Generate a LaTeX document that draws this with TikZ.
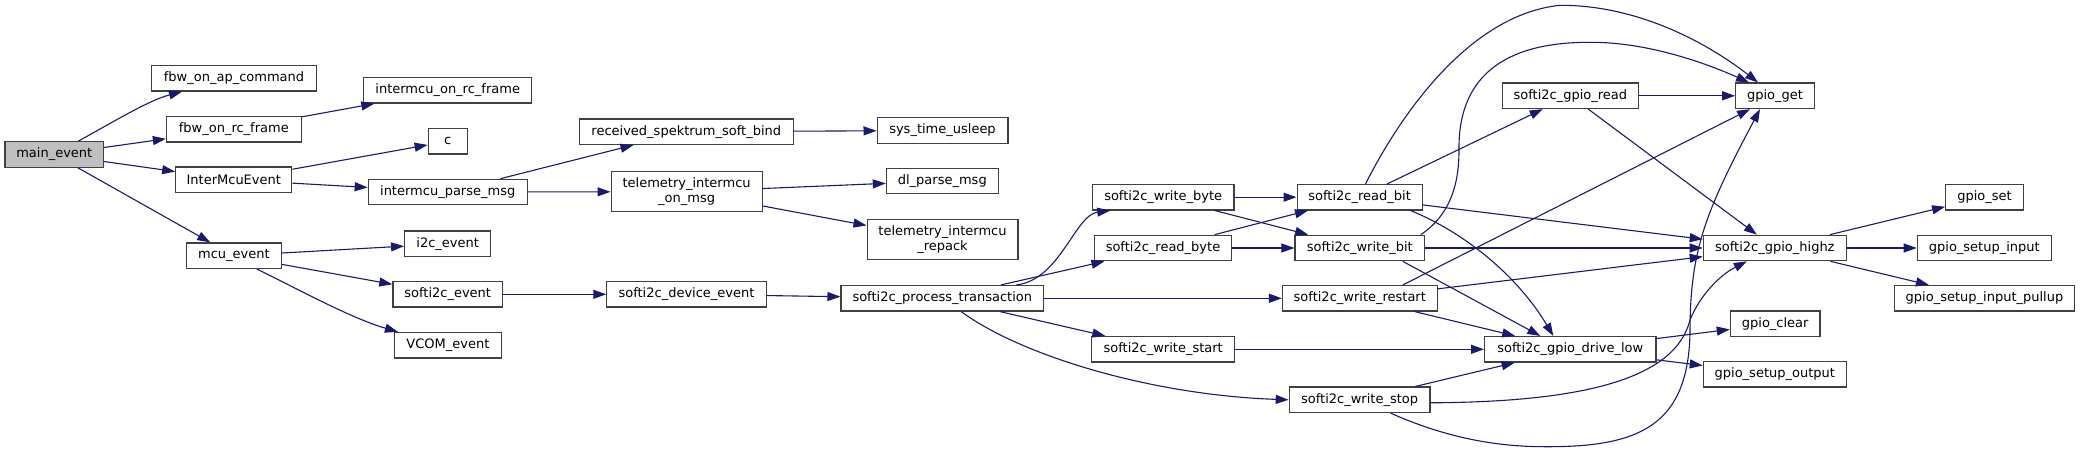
\documentclass[tikz,border=0pt]{standalone}
\usepackage{fontspec}
\setmainfont{DejaVu Sans}
\usetikzlibrary{arrows.meta}
\definecolor{edgeblue}{HTML}{191970}
\definecolor{boxline}{HTML}{404040}
\definecolor{rootfill}{HTML}{BFBFBF}
\tikzset{
  fn/.style={draw=boxline, fill=white, line width=1.2pt, inner sep=0pt,
    minimum height=25.5pt, align=center, font=\fontsize{13}{15.5}\selectfont},
  fn2/.style={fn, minimum height=40pt},
  cedge/.style={draw=edgeblue, line width=1.1pt, -{Triangle[length=13pt,width=9pt]}}
}
\begin{document}
\begin{tikzpicture}[x=1pt,y=-1pt]
\useasboundingbox (0,0) rectangle (2080,452);
% nodes
\node[fn, fill=rootfill, minimum width=98.6pt] (me) at (54.3,154.5) {main\_event};
\node[fn, minimum width=164.3pt] (fap) at (234,78.3) {fbw\_on\_ap\_command};
\node[fn, minimum width=134.7pt] (frc) at (233.8,129.2) {fbw\_on\_rc\_frame};
\node[fn, minimum width=116.1pt] (ime) at (233.8,179.8) {InterMcuEvent};
\node[fn, minimum width=95pt] (mcu) at (233.9,255.7) {mcu\_event};
\node[fn, minimum width=168.2pt] (imrc) at (447.7,90.3) {intermcu\_on\_rc\_frame};
\node[fn, minimum width=38.9pt] (cc) at (447.7,141.3) {c};
\node[fn, minimum width=158.9pt] (ipm) at (447.7,192) {intermcu\_parse\_msg};
\node[fn, minimum width=86.1pt] (i2c) at (447.7,243.7) {i2c\_event};
\node[fn, minimum width=109.6pt] (sev) at (447.7,294.3) {softi2c\_event};
\node[fn, minimum width=107.1pt] (vcom) at (447.9,345.2) {VCOM\_event};
\node[fn, minimum width=213.9pt] (rsb) at (686.3,131.7) {received\_spektrum\_soft\_bind};
\node[fn2, minimum width=151pt] (tim) at (686.6,191.7) {telemetry\_intermcu\\\_on\_msg};
\node[fn, minimum width=159.3pt] (sde) at (686.5,294.3) {softi2c\_device\_event};
\node[fn, minimum width=130.8pt] (stu) at (942.5,130.5) {sys\_time\_usleep};
\node[fn, minimum width=111.8pt] (dpm) at (942.3,181) {dl\_parse\_msg};
\node[fn2, minimum width=150.8pt] (tir) at (942.5,239.7) {telemetry\_intermcu\\\_repack};
\node[fn, minimum width=202.5pt] (pt) at (942.3,298.3) {softi2c\_process\_transaction};
\node[fn, minimum width=141.4pt] (wbyte) at (1163.2,197.2) {softi2c\_write\_byte};
\node[fn, minimum width=137.5pt] (rbyte) at (1163,248) {softi2c\_read\_byte};
\node[fn, minimum width=142.8pt] (wstart) at (1163.2,349.3) {softi2c\_write\_start};
\node[fn, minimum width=125pt] (rbit) at (1359.6,197.2) {softi2c\_read\_bit};
\node[fn, minimum width=129.6pt] (wbit) at (1359.8,248) {softi2c\_write\_bit};
\node[fn, minimum width=154.6pt] (wrest) at (1359.8,298.3) {softi2c\_write\_restart};
\node[fn, minimum width=140.7pt] (wstop) at (1359.6,399.8) {softi2c\_write\_stop};
\node[fn, minimum width=135.7pt] (gread) at (1570.4,95.8) {softi2c\_gpio\_read};
\node[fn, minimum width=171.4pt] (dlow) at (1570.3,349.3) {softi2c\_gpio\_drive\_low};
\node[fn, minimum width=78.6pt] (gget) at (1775,95.8) {gpio\_get};
\node[fn, minimum width=143pt] (hz) at (1774.8,248) {softi2c\_gpio\_highz};
\node[fn, minimum width=89.7pt] (gclr) at (1775.2,323.8) {gpio\_clear};
\node[fn, minimum width=143pt] (gso) at (1774.8,374.3) {gpio\_setup\_output};
\node[fn, minimum width=77.6pt] (gset) at (1984.5,197.2) {gpio\_set};
\node[fn, minimum width=134pt] (gsi) at (1984.3,248) {gpio\_setup\_input};
\node[fn, minimum width=180.4pt] (gsip) at (1984.5,298.3) {gpio\_setup\_input\_pullup};
% edges
\draw[cedge] ([xshift=24pt]me.north) .. controls (120,118) and (150,100) .. ([xshift=-52pt]fap.south);
\draw[cedge] (me) -- (frc);
\draw[cedge] (me) -- (ime);
\draw[cedge] (me) -- (mcu);
\draw[cedge] (frc) -- (imrc);
\draw[cedge] (ime) -- (cc);
\draw[cedge] (ime) -- (ipm);
\draw[cedge] (ipm) -- (rsb);
\draw[cedge] (ipm) -- (tim);
\draw[cedge] (rsb) -- (stu);
\draw[cedge] (tim) -- (dpm);
\draw[cedge] (tim) -- (tir);
\draw[cedge] (mcu) -- (i2c);
\draw[cedge] (mcu) -- (sev);
\draw[cedge] ([xshift=23pt]mcu.south) .. controls (290,285) and (350,318) .. ([xshift=-50pt]vcom.north);
\draw[cedge] (sev) -- (sde);
\draw[cedge] (sde) -- (pt);
\draw[cedge] ([xshift=74pt]pt.north) .. controls (1060,280) and (1075,215) .. ([xshift=-53pt]wbyte.south);
\draw[cedge] (pt) -- (rbyte);
\draw[cedge] (pt) -- (wrest);
\draw[cedge] (pt) -- (wstart);
\draw[cedge] ([xshift=19pt]pt.south) .. controls (1020,355) and (1150,395) .. (wstop.west);
\draw[cedge] (wbyte) -- (rbit);
\draw[cedge] (wbyte) -- (wbit);
\draw[cedge] (rbyte) -- (rbit);
\draw[cedge] (rbyte) -- (wbit);
\draw[cedge] ([xshift=6pt]rbit.north) .. controls (1395,125) and (1465,15) .. (1560,5.3)
  .. controls (1640,5) and (1710,45) .. ([xshift=-17pt]gget.north);
\draw[cedge] (rbit) -- (gread);
\draw[cedge] (rbit) -- (hz);
\draw[cedge] ([xshift=51pt]rbit.south) .. controls (1470,235) and (1520,280) .. ([xshift=-17pt]dlow.north);
\draw[cedge] ([xshift=61pt]wbit.north) .. controls (1450,215) and (1459,185) .. (1459,150)
  .. controls (1458,80) and (1500,42) .. (1590,42.3)
  .. controls (1650,42) and (1710,65) .. ([xshift=-26pt]gget.north);
\draw[cedge] (wbit) -- (hz);
\draw[cedge] ([xshift=43pt]wbit.south) -- ([xshift=-30pt]dlow.north);
\draw[cedge] ([xshift=43pt]wrest.north) -- ([xshift=-25pt]gget.south);
\draw[cedge] (wrest) -- (hz);
\draw[cedge] (wrest) -- (dlow);
\draw[cedge] (wstart) -- (dlow);
\draw[cedge] (wstop) -- (dlow);
\draw[cedge] ([yshift=-3pt]wstop.east) .. controls (1580,402) and (1675,380) .. (1690,320)
  .. controls (1700,295) and (1720,275) .. ([xshift=-28pt]hz.south);
\draw[cedge] ([xshift=31pt]wstop.south) .. controls (1440,435) and (1490,447) .. (1546.7,446.7)
  .. controls (1640,447) and (1688,425) .. (1690,333)
  .. controls (1690,250) and (1705,213) .. ([xshift=-15pt]gget.south);
\draw[cedge] (gread) -- (gget);
\draw[cedge] (gread) -- (hz);
\draw[cedge] (hz) -- (gset);
\draw[cedge] (hz) -- (gsi);
\draw[cedge] (hz) -- (gsip);
\draw[cedge] (dlow) -- (gclr);
\draw[cedge] (dlow) -- (gso);
\end{tikzpicture}
\end{document}
